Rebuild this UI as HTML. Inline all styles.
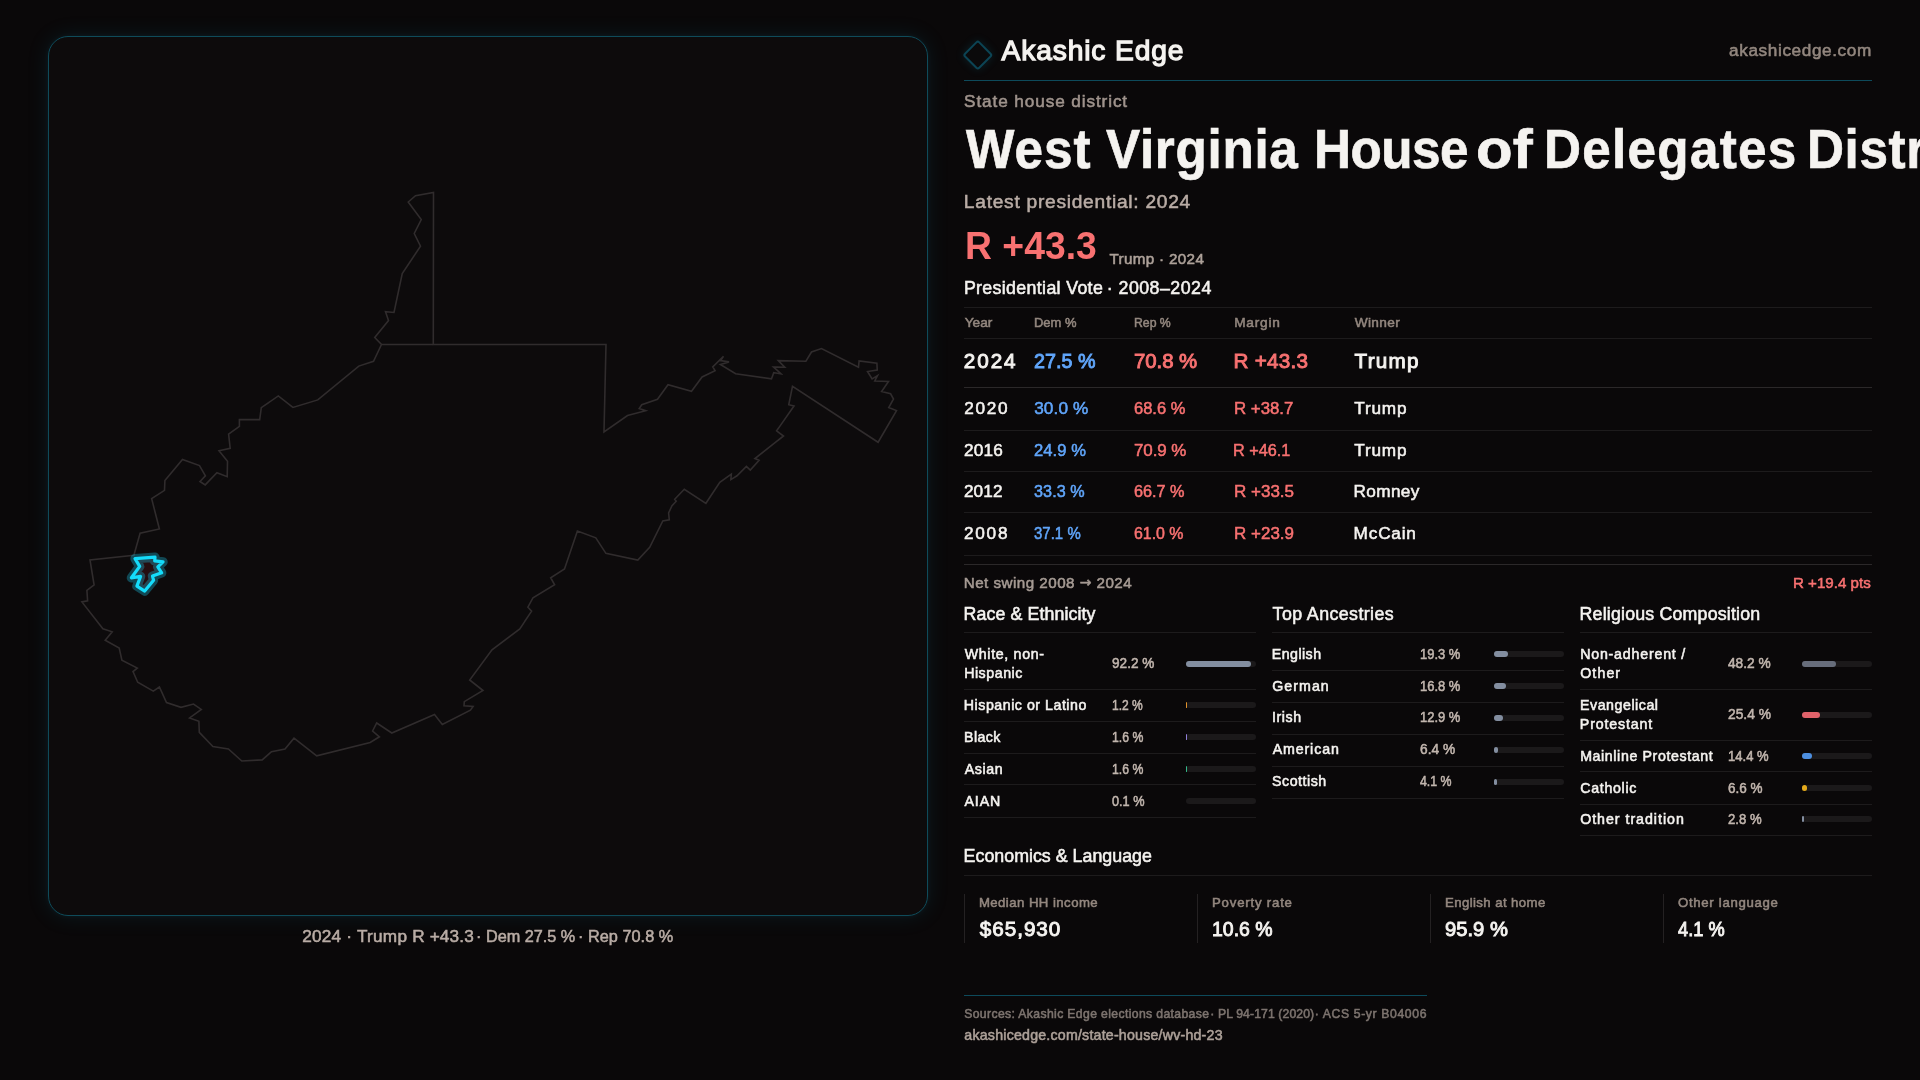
<!DOCTYPE html>
<html lang="en"><head><meta charset="utf-8">
<title>West Virginia House of Delegates District 23 – Akashic Edge</title>
<meta name="viewport" content="width=1920">
<style>
html,body{margin:0;padding:0;background:#0a0809}
body{position:relative;width:1920px;height:1080px;overflow:hidden;font-family:"Liberation Sans",Arial,sans-serif;color:#f5f3f0;-webkit-font-smoothing:antialiased}
h1,h2,h3,p,ul,li,header,footer,section,div{margin:0;padding:0;font:inherit;list-style:none}
main.stage{will-change:transform}
.t{position:absolute;white-space:nowrap;font-weight:400;transform-origin:0 50%}
.m{-webkit-text-stroke:0.55px}
.sb{font-weight:400;-webkit-text-stroke:0.045em}
.arr{font-family:"DejaVu Sans",sans-serif;font-size:0.92em;-webkit-text-stroke:0.6px;position:relative;top:-0.5px}
.b{font-weight:700}
.bt{font-weight:700;-webkit-text-stroke:0.7px}
.ln{position:absolute;display:block;height:1px}
.vl{position:absolute;display:block;width:1px;background:#242122}
.bar{position:absolute;display:block;width:70px;height:6px;border-radius:3px;background:#1b191a}
.bar b{display:block;height:6px;border-radius:3px}
.panel{position:absolute;left:48px;top:36px;width:878px;height:878px;border:1px solid #0f4b5a;border-radius:20px;background:#0d0b0c;box-shadow:0 0 22px rgba(20,150,180,0.13),0 0 6px rgba(20,150,180,0.08);overflow:hidden}
.map{position:absolute;left:-1px;top:-1px;display:block}
.logo{position:absolute;left:966.95px;top:44.05px;width:17.6px;height:17.6px;border:2px solid #0c4454;border-radius:3px;transform:rotate(45deg);box-shadow:0 0 10px rgba(20,150,180,0.18);background:#0b0a0b}
h1.title{position:absolute;left:0;top:0;width:1920px;height:200px;overflow:hidden;pointer-events:none}
</style></head>
<body>
<main class="stage">
<section class="mapcol">
<div class="panel"><svg class="map" viewBox="48 36 880 880" width="880" height="880"><g fill="none" stroke="#302c2d" stroke-width="1.6" stroke-linejoin="miter"><path d="M433.5 192.5 L433.3 344.5 L606 344.5 L604 432 L627.5 415.5 L645.75 410.75 L639.25 408.5 L641.75 404.75 L657.5 399.25 L668 384.75 L691.5 391.25 L702.1 377 L715.1 370.6 L712.75 366.9 L723.5 356.25 L720.6 360.6 L729 361.9 L720.4 364.4 L735.6 373.75 L771.5 378.75 L773.75 372.75 L781 373.75 L773.5 367 L784.75 367.25 L778.25 360.6 L805.9 361.25 L811.5 352 L821.5 348.5 L858.5 367.25 L859.1 361 L876.9 363.1 L877.25 370 L867.5 371.5 L872.1 379 L877.5 375.6 L874.75 381 L888.5 381.5 L881.6 391.5 L890.6 393.75 L893.5 399 L888.75 407.5 L896.5 410.6 L878.1 442.25 L792.5 386.25 L788.75 404.75 L794 406 L776.6 430.9 L783.5 436 L754.9 458.6 L759.1 460.35 L750.3 470.1 L746.4 466.4 L737 475.8 L730.9 479.6 L731.3 474.2 L719.8 482.3 L705.9 503.3 L684.3 489.3 L674.7 499.2 L676.2 501.2 L672 505.7 L668.6 513 L669.3 519.9 L662.8 520.9 L649.7 547.3 L637.8 560.1 L605.9 553.4 L595.8 537.8 L577.4 531 L564.5 569 L550.7 577.7 L554.6 584.8 L533 597.7 L527.9 607.2 L531.6 611.2 L519.8 628.85 L492 649.8 L469.7 680 L483 690.5 L464.3 701.6 L464 705.7 L473.1 706.4 L470.4 710.1 L442.3 724.4 L434.5 714.5 L391.8 733 L376.7 723 L372.6 731 L379.4 736.8 L370.2 742.5 L316.7 755.8 L294 738.2 L285 749 L271.5 751.7 L262.2 759.9 L241.8 761 L228.4 748.9 L212.9 746.6 L199.3 732.4 L198.9 721.3 L189.6 717.9 L201.3 709.4 L193.5 704 L181 707.3 L166.5 702.6 L159.4 687 L153.3 691.1 L137.7 682.3 L133 671.5 L137.3 668.1 L121.9 660.2 L119.2 648 L105.2 640.3 L112.2 631.8 L102.9 628.8 L81.9 601.9 L87.6 600.8 L86.9 590.4 L94.1 585 L90 559.9 L133.9 555.2 L140.1 533.2 L159.4 529 L151.65 498.7 L164.5 490.3 L164.9 480.5 L182.5 459.5 L199.5 465.6 L205.4 475.8 L200 481.5 L205.2 484.9 L216.9 472.7 L227.2 476.7 L227.5 461.3 L219 450.7 L230.2 448.3 L228.6 434.1 L239.4 426.4 L239.4 419.6 L259.7 419.6 L261.3 407.7 L278.3 395.9 L292.9 407.4 L317.8 399.9 L358.8 366.1 L373.5 361.25 L381.5 344.5 L374.75 337.5 L388.5 320.5 L385.5 311.75 L394 312.5 L402.25 273.5 L420.5 246.25 L414.25 233.5 L421.25 219.5 L408.25 202 L415.5 195.75 Z"/><path d="M381.5 344.5 L433.3 344.5"/></g><path d="M135 558.6 L155 557.2 L154.7 560.8 L163.05 561.9 L157.8 566.9 L161.7 572.8 L152.5 576.1 L153.6 580.3 L144.7 591.1 L136.9 586.1 L140.6 576.4 L131.4 577.8 L139.7 566.4 Z" fill="rgba(200,40,50,0.13)" stroke="none"/><path d="M135 558.6 L155 557.2 L154.7 560.8 L163.05 561.9 L157.8 566.9 L161.7 572.8 L152.5 576.1 L153.6 580.3 L144.7 591.1 L136.9 586.1 L140.6 576.4 L131.4 577.8 L139.7 566.4 Z" fill="none" stroke="rgba(26,190,225,0.34)" stroke-width="9.4" stroke-linejoin="round"/><path d="M135 558.6 L155 557.2 L154.7 560.8 L163.05 561.9 L157.8 566.9 L161.7 572.8 L152.5 576.1 L153.6 580.3 L144.7 591.1 L136.9 586.1 L140.6 576.4 L131.4 577.8 L139.7 566.4 Z" fill="none" stroke="#14dcfb" stroke-width="3.2" stroke-linejoin="round"/></svg></div>
<p class="caption"><span id="cap1" class="t m" style="left:302.14px;top:925.00px;font-size:17.2px;line-height:22px;letter-spacing:0.236px;color:#b9aca5">2024 · Trump</span> <span id="cap2" class="t m" style="left:412.17px;top:925.00px;font-size:17.2px;line-height:22px;letter-spacing:0.144px;color:#b9aca5">R +43.3</span> <span id="cap3" class="t m" style="left:476.31px;top:925.00px;font-size:17.2px;line-height:22px;letter-spacing:-0.005px;transform:scaleX(0.9456);color:#b9aca5">· Dem 27.5 %</span> <span id="cap4" class="t m" style="left:577.73px;top:925.00px;font-size:17.2px;line-height:22px;letter-spacing:0.010px;transform:scaleX(0.9484);color:#b9aca5">· Rep 70.8 %</span></p>
</section>
<section class="info">
<header class="brand"><i class="logo"></i><span id="brand" class="t sb" style="left:1001.53px;top:31.00px;font-size:28.2px;line-height:38px;letter-spacing:0.875px;color:#f5f3f0">Akashic Edge</span><span id="site" class="t m" style="left:1729.10px;top:39.00px;font-size:17.2px;line-height:22px;letter-spacing:0.602px;color:#93877f">akashicedge.com</span><i class="ln" style="left:964px;top:80px;width:908px;background:#0d4a5b"></i></header>
<div class="hero"><span id="kicker" class="t m" style="left:964.12px;top:90.00px;font-size:17.2px;line-height:22px;letter-spacing:0.887px;color:#9f938c">State house district</span>
<h1 class="title"><span id="tw1" class="t bt" style="left:965.65px;top:113.00px;font-size:56px;line-height:71px;letter-spacing:1.087px;transform:scaleX(0.9150);color:#f5f3f0">West</span> <span id="tw2" class="t bt" style="left:1106.48px;top:113.00px;font-size:56px;line-height:71px;letter-spacing:0.752px;transform:scaleX(0.9150);color:#f5f3f0">Virginia</span> <span id="tw3" class="t bt" style="left:1313.92px;top:113.00px;font-size:56px;line-height:71px;letter-spacing:-0.587px;transform:scaleX(0.9150);color:#f5f3f0">House</span> <span id="tw4" class="t bt" style="left:1476.36px;top:113.00px;font-size:56px;line-height:71px;letter-spacing:0.245px;transform:scaleX(1.0700);color:#f5f3f0">of</span> <span id="tw5" class="t bt" style="left:1543.92px;top:113.00px;font-size:56px;line-height:71px;letter-spacing:1.402px;transform:scaleX(0.9150);color:#f5f3f0">Delegates</span> <span id="tw6" class="t bt" style="left:1807.12px;top:113.00px;font-size:56px;line-height:71px;letter-spacing:0.664px;transform:scaleX(0.9150);color:#f5f3f0">District 23</span></h1>
<span id="latest" class="t m" style="left:963.85px;top:189.00px;font-size:19.2px;line-height:25px;letter-spacing:0.723px;color:#b9aca5">Latest presidential: 2024</span><span id="big" class="t b" style="left:964.66px;top:222.00px;font-size:38px;line-height:48px;letter-spacing:0.026px;transform:scaleX(0.9818);color:#f87171">R +43.3</span><span id="bigsub" class="t m" style="left:1109.46px;top:248.50px;font-size:15.2px;line-height:20px;letter-spacing:0.343px;color:#ada199">Trump · 2024</span></div>
<section class="pres"><h2><span id="sect1a" class="t m" style="left:963.92px;top:276.50px;font-size:17.8px;line-height:23px;letter-spacing:0.340px;color:#f5f3f0">Presidential Vote</span> <span id="sect1b" class="t m" style="left:1106.73px;top:276.50px;font-size:17.8px;line-height:23px;letter-spacing:0.473px;color:#f5f3f0">· 2008–2024</span></h2><i class="ln" style="left:964px;top:307px;width:908px;background:#1d1b1c"></i>
<div class="thead"><span id="th1" class="t m" style="left:964.64px;top:313.50px;font-size:13.7px;line-height:18px;letter-spacing:0.042px;color:#93877f">Year</span><span id="th2" class="t m" style="left:1034.14px;top:313.50px;font-size:13.7px;line-height:18px;letter-spacing:-0.001px;transform:scaleX(0.9479);color:#93877f">Dem %</span><span id="th3" class="t m" style="left:1133.93px;top:313.50px;font-size:13.7px;line-height:18px;letter-spacing:-0.016px;transform:scaleX(0.8968);color:#93877f">Rep %</span><span id="th4" class="t m" style="left:1234.17px;top:313.50px;font-size:13.7px;line-height:18px;letter-spacing:0.788px;color:#93877f">Margin</span><span id="th5" class="t m" style="left:1354.64px;top:313.50px;font-size:13.7px;line-height:18px;letter-spacing:0.381px;color:#93877f">Winner</span><i class="ln" style="left:964px;top:338px;width:908px;background:#1d1b1c"></i></div>
<div class="tr r0"><span id="r0c0" class="t sb" style="left:963.87px;top:346.50px;font-size:20.68px;line-height:28px;letter-spacing:1.915px;color:#f5f3f0">2024</span><span id="r0c1" class="t sb" style="left:1033.59px;top:346.50px;font-size:20.68px;line-height:28px;letter-spacing:0.015px;transform:scaleX(0.9541);color:#60a5fa">27.5 %</span><span id="r0c2" class="t sb" style="left:1133.88px;top:346.50px;font-size:20.68px;line-height:28px;letter-spacing:-0.049px;transform:scaleX(0.9862);color:#f87171">70.8 %</span><span id="r0c3" class="t sb" style="left:1233.60px;top:346.50px;font-size:20.68px;line-height:28px;letter-spacing:0.234px;color:#f87171">R +43.3</span><span id="r0c4" class="t sb" style="left:1354.55px;top:346.50px;font-size:20.68px;line-height:28px;letter-spacing:1.229px;color:#f5f3f0">Trump</span><i class="ln" style="left:964px;top:387px;width:908px;background:#2b2829"></i></div><div class="tr r1"><span id="r1c0" class="t m" style="left:964.16px;top:397.00px;font-size:17.2px;line-height:22px;letter-spacing:1.725px;color:#f5f3f0">2020</span><span id="r1c1" class="t m" style="left:1034.13px;top:397.00px;font-size:17.2px;line-height:22px;letter-spacing:0.120px;color:#60a5fa">30.0 %</span><span id="r1c2" class="t m" style="left:1134.10px;top:397.00px;font-size:17.2px;line-height:22px;letter-spacing:-0.018px;transform:scaleX(0.9612);color:#f87171">68.6 %</span><span id="r1c3" class="t m" style="left:1233.93px;top:397.00px;font-size:17.2px;line-height:22px;letter-spacing:0.007px;transform:scaleX(0.9783);color:#f87171">R +38.7</span><span id="r1c4" class="t m" style="left:1354.32px;top:397.00px;font-size:17.2px;line-height:22px;letter-spacing:0.796px;color:#f5f3f0">Trump</span><i class="ln" style="left:964px;top:430px;width:908px;background:#1d1b1c"></i></div><div class="tr r2"><span id="r2c0" class="t m" style="left:963.95px;top:439.00px;font-size:17.2px;line-height:22px;letter-spacing:0.174px;color:#f5f3f0">2016</span><span id="r2c1" class="t m" style="left:1034.26px;top:439.00px;font-size:17.2px;line-height:22px;letter-spacing:0.060px;transform:scaleX(0.9645);color:#60a5fa">24.9 %</span><span id="r2c2" class="t m" style="left:1133.52px;top:439.00px;font-size:17.2px;line-height:22px;letter-spacing:-0.069px;transform:scaleX(0.9857);color:#f87171">70.9 %</span><span id="r2c3" class="t m" style="left:1233.23px;top:439.00px;font-size:17.2px;line-height:22px;letter-spacing:-0.006px;transform:scaleX(0.9457);color:#f87171">R +46.1</span><span id="r2c4" class="t m" style="left:1354.32px;top:439.00px;font-size:17.2px;line-height:22px;letter-spacing:0.796px;color:#f5f3f0">Trump</span><i class="ln" style="left:964px;top:471px;width:908px;background:#1d1b1c"></i></div><div class="tr r3"><span id="r3c0" class="t m" style="left:963.89px;top:480.00px;font-size:17.2px;line-height:22px;letter-spacing:0.166px;color:#f5f3f0">2012</span><span id="r3c1" class="t m" style="left:1034.40px;top:480.00px;font-size:17.2px;line-height:22px;letter-spacing:0.069px;transform:scaleX(0.9416);color:#60a5fa">33.3 %</span><span id="r3c2" class="t m" style="left:1134.33px;top:480.00px;font-size:17.2px;line-height:22px;letter-spacing:-0.044px;transform:scaleX(0.9466);color:#f87171">66.7 %</span><span id="r3c3" class="t m" style="left:1233.80px;top:480.00px;font-size:17.2px;line-height:22px;letter-spacing:0.001px;transform:scaleX(0.9895);color:#f87171">R +33.5</span><span id="r3c4" class="t m" style="left:1353.57px;top:480.00px;font-size:17.2px;line-height:22px;letter-spacing:0.357px;color:#f5f3f0">Romney</span><i class="ln" style="left:964px;top:512px;width:908px;background:#1d1b1c"></i></div><div class="tr r4"><span id="r4c0" class="t m" style="left:963.96px;top:522.00px;font-size:17.2px;line-height:22px;letter-spacing:1.776px;color:#f5f3f0">2008</span><span id="r4c1" class="t m" style="left:1034.43px;top:522.00px;font-size:17.2px;line-height:22px;letter-spacing:0.033px;transform:scaleX(0.8696);color:#60a5fa">37.1 %</span><span id="r4c2" class="t m" style="left:1133.55px;top:522.00px;font-size:17.2px;line-height:22px;letter-spacing:-0.032px;transform:scaleX(0.9281);color:#f87171">61.0 %</span><span id="r4c3" class="t m" style="left:1233.86px;top:522.00px;font-size:17.2px;line-height:22px;letter-spacing:0.042px;transform:scaleX(0.9844);color:#f87171">R +23.9</span><span id="r4c4" class="t m" style="left:1353.62px;top:522.00px;font-size:17.2px;line-height:22px;letter-spacing:0.804px;color:#f5f3f0">McCain</span><i class="ln" style="left:964px;top:555px;width:908px;background:#1d1b1c"></i></div>
<div class="net"><i class="ln" style="left:964px;top:564px;width:908px;background:#2b2829"></i><span id="netl" class="t m" style="left:963.77px;top:572.50px;font-size:15.2px;line-height:20px;letter-spacing:0.467px;color:#a59a93">Net swing 2008 <span class="arr">→</span> 2024</span><span id="netv" class="t m" style="left:1793.38px;top:572.50px;font-size:15.2px;line-height:20px;letter-spacing:0.004px;transform:scaleX(0.9942);color:#f87171">R +19.4 pts</span></div>
</section>
<div class="cols">
<section class="col race"><span id="h_race" class="t m" style="left:963.60px;top:602.50px;font-size:17.8px;line-height:23px;letter-spacing:0.097px;color:#f5f3f0">Race &amp; Ethnicity</span><i class="ln" style="left:964px;top:632px;width:292px;background:#1d1b1c"></i><ul><li><span id="ra0l0" class="t m" style="left:964.67px;top:644.50px;font-size:14.2px;line-height:19px;letter-spacing:0.680px;color:#f5f3f0">White, non-</span><span id="ra0l1" class="t m" style="left:964.15px;top:663.50px;font-size:14.2px;line-height:19px;letter-spacing:0.543px;color:#f5f3f0">Hispanic</span><span id="ra0v" class="t m" style="left:1111.57px;top:653.50px;font-size:14.2px;line-height:19px;letter-spacing:0.022px;transform:scaleX(0.9559);color:#c2b6ae">92.2 %</span><span class="bar" style="left:1186px;top:661px"><b style="width:64.54px;background:#838ea0"></b></span><i class="ln" style="left:964px;top:689px;width:292px;background:#1d1b1c"></i></li><li><span id="ra1l0" class="t m" style="left:963.84px;top:695.50px;font-size:14.2px;line-height:19px;letter-spacing:0.527px;color:#f5f3f0">Hispanic or Latino</span><span id="ra1v" class="t m" style="left:1111.53px;top:695.50px;font-size:14.2px;line-height:19px;letter-spacing:-0.044px;transform:scaleX(0.8474);color:#c2b6ae">1.2 %</span><span class="bar" style="left:1186px;top:702px"><b style="width:0.84px;background:#e0912a"></b></span><i class="ln" style="left:964px;top:721px;width:292px;background:#1d1b1c"></i></li><li><span id="ra2l0" class="t m" style="left:964.01px;top:727.50px;font-size:14.2px;line-height:19px;letter-spacing:0.441px;color:#f5f3f0">Black</span><span id="ra2v" class="t m" style="left:1112.20px;top:727.50px;font-size:14.2px;line-height:19px;letter-spacing:0.066px;transform:scaleX(0.8609);color:#c2b6ae">1.6 %</span><span class="bar" style="left:1186px;top:734px"><b style="width:1.12px;background:#8f7fd8"></b></span><i class="ln" style="left:964px;top:753px;width:292px;background:#1d1b1c"></i></li><li><span id="ra3l0" class="t m" style="left:964.66px;top:759.50px;font-size:14.2px;line-height:19px;letter-spacing:0.638px;color:#f5f3f0">Asian</span><span id="ra3v" class="t m" style="left:1112.20px;top:759.50px;font-size:14.2px;line-height:19px;letter-spacing:0.066px;transform:scaleX(0.8609);color:#c2b6ae">1.6 %</span><span class="bar" style="left:1186px;top:766px"><b style="width:1.12px;background:#35b98a"></b></span><i class="ln" style="left:964px;top:784px;width:292px;background:#1d1b1c"></i></li><li><span id="ra4l0" class="t m" style="left:964.60px;top:791.50px;font-size:14.2px;line-height:19px;letter-spacing:0.817px;color:#f5f3f0">AIAN</span><span id="ra4v" class="t m" style="left:1112.26px;top:791.50px;font-size:14.2px;line-height:19px;letter-spacing:0.008px;transform:scaleX(0.8961);color:#c2b6ae">0.1 %</span><span class="bar" style="left:1186px;top:798px"><b style="width:0.07px;background:#838ea0"></b></span><i class="ln" style="left:964px;top:817px;width:292px;background:#1d1b1c"></i></li></ul></section>
<section class="col anc"><span id="h_anc" class="t m" style="left:1272.58px;top:602.50px;font-size:17.8px;line-height:23px;letter-spacing:0.417px;color:#f5f3f0">Top Ancestries</span><i class="ln" style="left:1272px;top:632px;width:292px;background:#1d1b1c"></i><ul><li><span id="an0l0" class="t m" style="left:1271.81px;top:644.50px;font-size:14.2px;line-height:19px;letter-spacing:0.454px;color:#f5f3f0">English</span><span id="an0v" class="t m" style="left:1419.96px;top:644.50px;font-size:14.2px;line-height:19px;letter-spacing:0.001px;transform:scaleX(0.9143);color:#c2b6ae">19.3 %</span><span class="bar" style="left:1494px;top:651px"><b style="width:13.51px;background:#838ea0"></b></span><i class="ln" style="left:1272px;top:670px;width:292px;background:#1d1b1c"></i></li><li><span id="an1l0" class="t m" style="left:1272.26px;top:676.50px;font-size:14.2px;line-height:19px;letter-spacing:1.042px;color:#f5f3f0">German</span><span id="an1v" class="t m" style="left:1419.96px;top:676.50px;font-size:14.2px;line-height:19px;letter-spacing:0.001px;transform:scaleX(0.9141);color:#c2b6ae">16.8 %</span><span class="bar" style="left:1494px;top:683px"><b style="width:11.76px;background:#838ea0"></b></span><i class="ln" style="left:1272px;top:702px;width:292px;background:#1d1b1c"></i></li><li><span id="an2l0" class="t m" style="left:1271.88px;top:707.50px;font-size:14.2px;line-height:19px;letter-spacing:0.639px;color:#f5f3f0">Irish</span><span id="an2v" class="t m" style="left:1419.96px;top:707.50px;font-size:14.2px;line-height:19px;letter-spacing:0.001px;transform:scaleX(0.9143);color:#c2b6ae">12.9 %</span><span class="bar" style="left:1494px;top:715px"><b style="width:9.03px;background:#838ea0"></b></span><i class="ln" style="left:1272px;top:734px;width:292px;background:#1d1b1c"></i></li><li><span id="an3l0" class="t m" style="left:1272.66px;top:739.50px;font-size:14.2px;line-height:19px;letter-spacing:0.889px;color:#f5f3f0">American</span><span id="an3v" class="t m" style="left:1419.74px;top:739.50px;font-size:14.2px;line-height:19px;letter-spacing:0.003px;transform:scaleX(0.9662);color:#c2b6ae">6.4 %</span><span class="bar" style="left:1494px;top:747px"><b style="width:4.48px;background:#838ea0"></b></span><i class="ln" style="left:1272px;top:766px;width:292px;background:#1d1b1c"></i></li><li><span id="an4l0" class="t m" style="left:1272.00px;top:771.50px;font-size:14.2px;line-height:19px;letter-spacing:0.540px;color:#f5f3f0">Scottish</span><span id="an4v" class="t m" style="left:1420.15px;top:771.50px;font-size:14.2px;line-height:19px;letter-spacing:-0.018px;transform:scaleX(0.8707);color:#c2b6ae">4.1 %</span><span class="bar" style="left:1494px;top:779px"><b style="width:2.87px;background:#838ea0"></b></span><i class="ln" style="left:1272px;top:798px;width:292px;background:#1d1b1c"></i></li></ul></section>
<section class="col rel"><span id="h_rel" class="t m" style="left:1579.60px;top:602.50px;font-size:17.8px;line-height:23px;letter-spacing:0.184px;color:#f5f3f0">Religious Composition</span><i class="ln" style="left:1580px;top:632px;width:292px;background:#1d1b1c"></i><ul><li><span id="re0l0" class="t m" style="left:1580.15px;top:644.50px;font-size:14.2px;line-height:19px;letter-spacing:0.806px;color:#f5f3f0">Non-adherent /</span><span id="re0l1" class="t m" style="left:1580.25px;top:663.50px;font-size:14.2px;line-height:19px;letter-spacing:1.087px;color:#f5f3f0">Other</span><span id="re0v" class="t m" style="left:1727.61px;top:653.50px;font-size:14.2px;line-height:19px;letter-spacing:0.005px;transform:scaleX(0.9655);color:#c2b6ae">48.2 %</span><span class="bar" style="left:1802px;top:661px"><b style="width:33.74px;background:#676d7b"></b></span><i class="ln" style="left:1580px;top:689px;width:292px;background:#1d1b1c"></i></li><li><span id="re1l0" class="t m" style="left:1580.05px;top:695.50px;font-size:14.2px;line-height:19px;letter-spacing:0.539px;color:#f5f3f0">Evangelical</span><span id="re1l1" class="t m" style="left:1579.85px;top:714.50px;font-size:14.2px;line-height:19px;letter-spacing:0.858px;color:#f5f3f0">Protestant</span><span id="re1v" class="t m" style="left:1728.11px;top:704.50px;font-size:14.2px;line-height:19px;letter-spacing:0.010px;transform:scaleX(0.9711);color:#c2b6ae">25.4 %</span><span class="bar" style="left:1802px;top:712px"><b style="width:17.78px;background:#e0626a"></b></span><i class="ln" style="left:1580px;top:740px;width:292px;background:#1d1b1c"></i></li><li><span id="re2l0" class="t m" style="left:1580.13px;top:746.50px;font-size:14.2px;line-height:19px;letter-spacing:0.619px;color:#f5f3f0">Mainline Protestant</span><span id="re2v" class="t m" style="left:1727.59px;top:746.50px;font-size:14.2px;line-height:19px;letter-spacing:0.010px;transform:scaleX(0.9180);color:#c2b6ae">14.4 %</span><span class="bar" style="left:1802px;top:753px"><b style="width:10.08px;background:#4d8fe0"></b></span><i class="ln" style="left:1580px;top:771px;width:292px;background:#1d1b1c"></i></li><li><span id="re3l0" class="t m" style="left:1580.31px;top:778.50px;font-size:14.2px;line-height:19px;letter-spacing:0.693px;color:#f5f3f0">Catholic</span><span id="re3v" class="t m" style="left:1727.82px;top:778.50px;font-size:14.2px;line-height:19px;letter-spacing:0.004px;transform:scaleX(0.9508);color:#c2b6ae">6.6 %</span><span class="bar" style="left:1802px;top:785px"><b style="width:4.62px;background:#e3a91b"></b></span><i class="ln" style="left:1580px;top:804px;width:292px;background:#1d1b1c"></i></li><li><span id="re4l0" class="t m" style="left:1580.20px;top:809.50px;font-size:14.2px;line-height:19px;letter-spacing:0.980px;color:#f5f3f0">Other tradition</span><span id="re4v" class="t m" style="left:1727.56px;top:809.50px;font-size:14.2px;line-height:19px;letter-spacing:0.053px;transform:scaleX(0.9259);color:#c2b6ae">2.8 %</span><span class="bar" style="left:1802px;top:816px"><b style="width:1.96px;background:#838ea0"></b></span><i class="ln" style="left:1580px;top:835px;width:292px;background:#1d1b1c"></i></li></ul></section>
</div>
<section class="eco"><h2><span id="h_eco" class="t m" style="left:963.60px;top:844.50px;font-size:17.8px;line-height:23px;letter-spacing:0.025px;color:#f5f3f0">Economics &amp; Language</span></h2><i class="ln" style="left:964px;top:875px;width:908px;background:#1d1b1c"></i>
<div class="cards"><div class="card"><i class="vl" style="left:964px;top:894px;height:49px"></i><span id="ec0l" class="t m" style="left:978.89px;top:893.50px;font-size:13.2px;line-height:18px;letter-spacing:0.444px;color:#93877f">Median HH income</span><span id="ec0v" class="t sb" style="left:979.84px;top:914.50px;font-size:20.68px;line-height:28px;letter-spacing:0.956px;color:#f5f3f0">$65,930</span></div><div class="card"><i class="vl" style="left:1197px;top:894px;height:49px"></i><span id="ec1l" class="t m" style="left:1212.00px;top:893.50px;font-size:13.2px;line-height:18px;letter-spacing:0.803px;color:#93877f">Poverty rate</span><span id="ec1v" class="t sb" style="left:1212.43px;top:914.50px;font-size:20.68px;line-height:28px;letter-spacing:0.003px;transform:scaleX(0.9417);color:#f5f3f0">10.6 %</span></div><div class="card"><i class="vl" style="left:1430px;top:894px;height:49px"></i><span id="ec2l" class="t m" style="left:1444.94px;top:893.50px;font-size:13.2px;line-height:18px;letter-spacing:0.412px;color:#93877f">English at home</span><span id="ec2v" class="t sb" style="left:1445.16px;top:914.50px;font-size:20.68px;line-height:28px;letter-spacing:0.002px;transform:scaleX(0.9763);color:#f5f3f0">95.9 %</span></div><div class="card"><i class="vl" style="left:1663px;top:894px;height:49px"></i><span id="ec3l" class="t m" style="left:1678.00px;top:893.50px;font-size:13.2px;line-height:18px;letter-spacing:0.692px;color:#93877f">Other language</span><span id="ec3v" class="t sb" style="left:1677.64px;top:914.50px;font-size:20.68px;line-height:28px;letter-spacing:0.024px;transform:scaleX(0.8814);color:#f5f3f0">4.1 %</span></div></div></section>
<footer><i class="ln" style="left:964px;top:995px;width:463px;background:#0d4a5b"></i><span id="src1" class="t m" style="left:964.19px;top:1006.00px;font-size:12.2px;line-height:16px;letter-spacing:0.371px;color:#7d746f">Sources: Akashic Edge elections database</span> <span id="src2" class="t m" style="left:1210.32px;top:1006.00px;font-size:12.2px;line-height:16px;letter-spacing:0.117px;color:#7d746f">· PL 94-171 (2020)</span> <span id="src3" class="t m" style="left:1314.78px;top:1006.00px;font-size:12.2px;line-height:16px;letter-spacing:0.628px;color:#7d746f">· ACS 5-yr B04006</span><span id="url" class="t m" style="left:964.35px;top:1025.50px;font-size:14.2px;line-height:19px;letter-spacing:0.212px;color:#ada199">akashicedge.com/state-house/wv-hd-23</span></footer>
</section>
</main>
</body></html>
